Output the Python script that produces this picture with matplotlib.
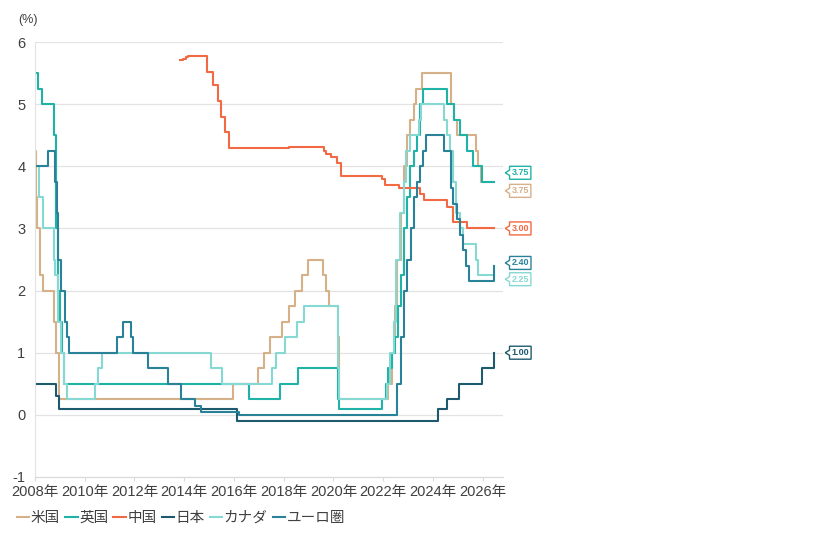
import pandas as pd
import matplotlib
matplotlib.use("Agg")
import matplotlib.pyplot as plt
from matplotlib.path import Path

plt.rcParams['font.family'] = ['Liberation Sans', 'Noto Sans CJK JP', 'DejaVu Sans']
plt.rcParams['axes.unicode_minus'] = False

END = "2026-06-17"

# policy rates (%), step changes
us_dates = ["2008-01-01", "2008-01-22", "2008-01-30", "2008-03-18", "2008-04-30", "2008-10-08",
            "2008-10-29", "2008-12-16", "2015-12-16", "2016-12-14", "2017-03-15", "2017-06-14",
            "2017-12-13", "2018-03-21", "2018-06-13", "2018-09-26", "2018-12-19", "2019-07-31",
            "2019-09-18", "2019-10-30", "2020-03-03", "2020-03-15", "2022-03-16", "2022-05-04",
            "2022-06-15", "2022-07-27", "2022-09-21", "2022-11-02", "2022-12-14", "2023-02-01",
            "2023-03-22", "2023-05-03", "2023-07-26", "2024-09-18", "2024-11-07", "2024-12-18",
            "2025-09-17", "2025-10-29", "2025-12-10", END]
us_vals = [4.25, 3.50, 3.00, 2.25, 2.00, 1.50, 1.00, 0.25, 0.50, 0.75, 1.00, 1.25, 1.50, 1.75,
           2.00, 2.25, 2.50, 2.25, 2.00, 1.75, 1.25, 0.25, 0.50, 1.00, 1.75, 2.50, 3.25, 4.00,
           4.50, 4.75, 5.00, 5.25, 5.50, 5.00, 4.75, 4.50, 4.25, 4.00, 3.75, 3.75]

uk_dates = ["2008-01-01", "2008-02-07", "2008-04-10", "2008-10-08", "2008-11-06", "2008-12-04",
            "2009-01-08", "2009-02-05", "2009-03-05", "2016-08-04", "2017-11-02", "2018-08-02",
            "2020-03-11", "2020-03-19", "2021-12-16", "2022-02-03", "2022-03-17", "2022-05-05",
            "2022-06-16", "2022-08-04", "2022-09-22", "2022-11-03", "2022-12-15", "2023-02-02",
            "2023-03-23", "2023-05-11", "2023-06-22", "2023-08-03", "2024-08-01", "2024-11-07",
            "2025-02-06", "2025-05-08", "2025-08-07", "2025-12-18", END]
uk_vals = [5.50, 5.25, 5.00, 4.50, 3.00, 2.00, 1.50, 1.00, 0.50, 0.25, 0.50, 0.75, 0.25, 0.10,
           0.25, 0.50, 0.75, 1.00, 1.25, 1.75, 2.25, 3.00, 3.50, 4.00, 4.25, 4.50, 5.00, 5.25,
           5.00, 4.75, 4.50, 4.25, 4.00, 3.75, 3.75]

cn_dates = ["2013-10-25", "2013-12-20", "2014-01-20", "2014-02-20", "2014-11-24", "2015-03-02",
            "2015-05-11", "2015-06-28", "2015-08-26", "2015-10-24", "2018-03-20", "2019-08-20",
            "2019-09-20", "2019-11-20", "2020-02-20", "2020-04-20", "2021-12-20", "2022-01-20",
            "2022-08-22", "2023-06-20", "2023-08-21", "2024-07-22", "2024-10-21", "2025-05-20", END]
cn_vals = [5.71, 5.72, 5.76, 5.77, 5.51, 5.31, 5.05, 4.80, 4.55, 4.30, 4.31, 4.25, 4.20, 4.15,
           4.05, 3.85, 3.80, 3.70, 3.65, 3.55, 3.45, 3.35, 3.10, 3.00, 3.00]

jp_dates = ["2008-01-01", "2008-10-31", "2008-12-19", "2016-02-16", "2024-03-19", "2024-07-31",
            "2025-01-24", "2025-12-19", END]
jp_vals = [0.50, 0.30, 0.10, -0.10, 0.10, 0.25, 0.50, 0.75, 1.00]

ca_dates = ["2008-01-01", "2008-03-04", "2008-04-22", "2008-10-08", "2008-10-21", "2008-12-09",
            "2009-01-20", "2009-03-03", "2009-04-21", "2010-06-01", "2010-07-20", "2010-09-08",
            "2015-01-21", "2015-07-15", "2017-07-12", "2017-09-06", "2018-01-17", "2018-07-11",
            "2018-10-24", "2020-03-04", "2020-03-13", "2020-03-27", "2022-03-02", "2022-04-13",
            "2022-06-01", "2022-07-13", "2022-09-07", "2022-10-26", "2022-12-07", "2023-01-25",
            "2023-06-07", "2023-07-12", "2024-06-05", "2024-07-24", "2024-09-04", "2024-10-23",
            "2024-12-11", "2025-01-29", "2025-03-12", "2025-09-17", "2025-10-29", END]
ca_vals = [4.00, 3.50, 3.00, 2.50, 2.25, 1.50, 1.00, 0.50, 0.25, 0.50, 0.75, 1.00, 0.75, 0.50,
           0.75, 1.00, 1.25, 1.50, 1.75, 1.25, 0.75, 0.25, 0.50, 1.00, 1.50, 2.50, 3.25, 3.75,
           4.25, 4.50, 4.75, 5.00, 4.75, 4.50, 4.25, 3.75, 3.25, 3.00, 2.75, 2.50, 2.25, 2.25]

eu_dates = ["2008-01-01", "2008-07-09", "2008-10-15", "2008-11-12", "2008-12-10", "2009-01-21",
            "2009-03-11", "2009-04-08", "2009-05-13", "2011-04-13", "2011-07-13", "2011-11-09",
            "2011-12-14", "2012-07-11", "2013-05-08", "2013-11-13", "2014-06-11", "2014-09-10",
            "2016-03-16", "2022-07-27", "2022-09-14", "2022-11-02", "2022-12-21", "2023-02-08",
            "2023-03-22", "2023-05-10", "2023-06-21", "2023-08-02", "2023-09-20", "2024-06-12",
            "2024-09-18", "2024-10-23", "2024-12-18", "2025-02-05", "2025-03-12", "2025-04-23",
            "2025-06-11", END]
eu_vals = [4.00, 4.25, 3.75, 3.25, 2.50, 2.00, 1.50, 1.25, 1.00, 1.25, 1.50, 1.25, 1.00, 0.75,
           0.50, 0.25, 0.15, 0.05, 0.00, 0.50, 1.25, 2.00, 2.50, 3.00, 3.50, 3.75, 4.00, 4.25,
           4.50, 4.25, 3.65, 3.40, 3.15, 2.90, 2.65, 2.40, 2.15, 2.40]

names = ["米国", "英国", "中国", "日本", "カナダ", "ユーロ圏"]
dates = [us_dates, uk_dates, cn_dates, jp_dates, ca_dates, eu_dates]
values = [us_vals, uk_vals, cn_vals, jp_vals, ca_vals, eu_vals]
colors = ["#D6B088", "#1FB3A7", "#F26A44", "#1E5A6E", "#86D9D2", "#2A8299"]
label_dy = [-6.5, 6.5, 0, 0, -3, 2]  # points, to keep end labels apart

years = list(range(2008, 2027, 2))


def notch_box(x0, y0, width, height, mutation_size):
    pad = 0.22 * mutation_size
    x0, y0 = x0 - pad, y0 - pad
    width, height = width + 2 * pad, height + 2 * pad
    ym = y0 + height / 2
    n = height * 0.2
    tip = height * 0.33
    verts = [(x0, y0), (x0 + width, y0), (x0 + width, y0 + height), (x0, y0 + height),
             (x0, ym + n), (x0 - tip, ym), (x0, ym - n), (x0, y0)]
    codes = [Path.MOVETO] + [Path.LINETO] * 6 + [Path.CLOSEPOLY]
    return Path(verts, codes)


fig = plt.figure(figsize=(8.26, 5.33), dpi=100)
ax = fig.add_axes([35 / 826, 1 - 477 / 533, 468 / 826, 435 / 533])

for name, d, v, c in zip(names, dates, values, colors):
    ax.plot(pd.to_datetime(d), v, drawstyle="steps-post", color=c, lw=1.5, label=name)

for d, v, c, dy in zip(dates, values, colors, label_dy):
    ax.annotate(f"{v[-1]:.2f}", xy=(pd.Timestamp(d[-1]), v[-1]), xytext=(12.5, dy),
                textcoords="offset points", ha="left", va="center", fontsize=6.5,
                fontweight="bold", color=c, annotation_clip=False,
                bbox=dict(boxstyle=notch_box, fc="white", ec=c, lw=1.0))

ax.set_xlim(pd.Timestamp("2008-01-01"), pd.Timestamp("2026-10-25"))
ax.set_ylim(-1, 6)
ax.set_yticks(range(-1, 7))
ax.set_xticks(pd.to_datetime([f"{y}-01-01" for y in years]))
ax.set_xticklabels([f"{y}年" for y in years])

ax.grid(axis="y", color="#E3E3E3", lw=0.9)
ax.set_axisbelow(True)
for s in ["top", "right"]:
    ax.spines[s].set_visible(False)
ax.spines["left"].set_color("#E3E3E3")
ax.spines["bottom"].set_color("#D9D9D9")
ax.tick_params(axis="y", length=0, pad=7, labelsize=10.5, labelcolor="#404040")
ax.tick_params(axis="x", length=3, color="#D9D9D9", pad=3, labelsize=10.5, labelcolor="#404040")

fig.text(18 / 826, 1 - 19.5 / 533, "(%)", fontsize=9, color="#404040", va="center")

ax.legend(loc="center left", bbox_to_anchor=(17 / 826, 1 - 518 / 533),
          bbox_transform=fig.transFigure, ncol=6, frameon=False, fontsize=10.5,
          handlelength=0.85, handletextpad=0.1, columnspacing=0.35,
          borderpad=0, borderaxespad=0, labelcolor="#404040")

fig.savefig("out.png", dpi=100)
